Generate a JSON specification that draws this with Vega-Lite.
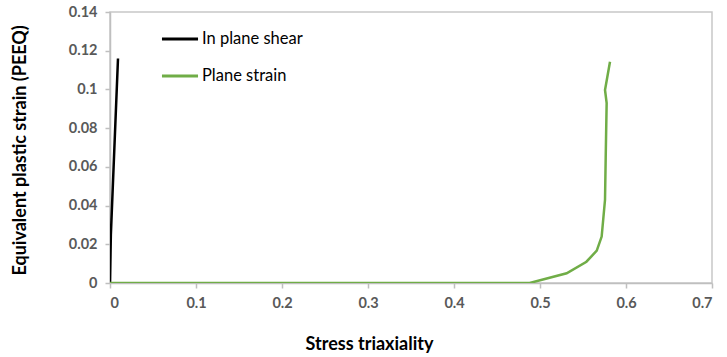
{
  "$schema": "https://vega.github.io/schema/vega-lite/v6.json",
  "width": 602,
  "height": 271,
  "autosize": "none",
  "padding": {"left": 110, "top": 12, "right": 15, "bottom": 74},
  "background": "white",
  "config": {
    "font": "Lato",
    "view": {"stroke": "#C8C8C8", "strokeWidth": 1.5},
    "axis": {
      "domainColor": "#BFBFBF",
      "domainWidth": 1.5,
      "tickColor": "#BFBFBF",
      "tickWidth": 1.5,
      "tickSize": 5,
      "grid": false,
      "labelFont": "Lato",
      "labelFontSize": 14.5,
      "labelFontWeight": "bold",
      "labelColor": "#595959",
      "titleFont": "Lato",
      "titleFontSize": 18,
      "titleFontWeight": "bold",
      "titleColor": "#000000"
    }
  },
  "data": {
    "values": [
      {"series": "In plane shear", "i": 0, "triax": 0.0, "peeq": 0.0},
      {"series": "In plane shear", "i": 1, "triax": 0.001, "peeq": 0.025},
      {"series": "In plane shear", "i": 2, "triax": 0.0093, "peeq": 0.116},
      {"series": "Plane strain", "i": 0, "triax": 0.0, "peeq": 0.0},
      {"series": "Plane strain", "i": 1, "triax": 0.488, "peeq": 0.0},
      {"series": "Plane strain", "i": 2, "triax": 0.531, "peeq": 0.005},
      {"series": "Plane strain", "i": 3, "triax": 0.554, "peeq": 0.011},
      {"series": "Plane strain", "i": 4, "triax": 0.566, "peeq": 0.0167},
      {"series": "Plane strain", "i": 5, "triax": 0.5717, "peeq": 0.024},
      {"series": "Plane strain", "i": 6, "triax": 0.5756, "peeq": 0.043},
      {"series": "Plane strain", "i": 7, "triax": 0.5764, "peeq": 0.065},
      {"series": "Plane strain", "i": 8, "triax": 0.5775, "peeq": 0.093},
      {"series": "Plane strain", "i": 9, "triax": 0.5756, "peeq": 0.0997},
      {"series": "Plane strain", "i": 10, "triax": 0.5814, "peeq": 0.1143}
    ]
  },
  "mark": {"type": "line", "strokeWidth": 2.5, "clip": true},
  "encoding": {
    "x": {
      "field": "triax",
      "type": "quantitative",
      "scale": {"domain": [0, 0.7], "nice": false, "zero": false},
      "axis": {
        "title": "Stress triaxiality",
        "values": [0, 0.1, 0.2, 0.3, 0.4, 0.5, 0.6, 0.7],
        "format": "~g",
        "labelPadding": 8,
        "titleX": 259,
        "titleY": 52,
        "titleBaseline": "top"
      }
    },
    "y": {
      "field": "peeq",
      "type": "quantitative",
      "scale": {"domain": [0, 0.14], "nice": false, "zero": false},
      "axis": {
        "title": "Equivalent plastic strain (PEEQ)",
        "values": [0, 0.02, 0.04, 0.06, 0.08, 0.1, 0.12, 0.14],
        "format": "~g",
        "labelPadding": 8,
        "titleX": -90,
        "titleY": 138,
        "titleBaseline": "middle"
      }
    },
    "color": {
      "field": "series",
      "type": "nominal",
      "scale": {"domain": ["In plane shear", "Plane strain"], "range": ["#000000", "#70AD47"]},
      "legend": {
        "title": null,
        "orient": "none",
        "legendX": 50,
        "legendY": 7,
        "symbolType": "stroke",
        "symbolSize": 1300,
        "symbolStrokeWidth": 3,
        "labelFont": "Lato",
        "labelFontSize": 16.5,
        "labelColor": "#000000",
        "labelOffset": 2,
        "rowPadding": 8
      }
    },
    "order": {"field": "i", "type": "quantitative"}
  }
}
